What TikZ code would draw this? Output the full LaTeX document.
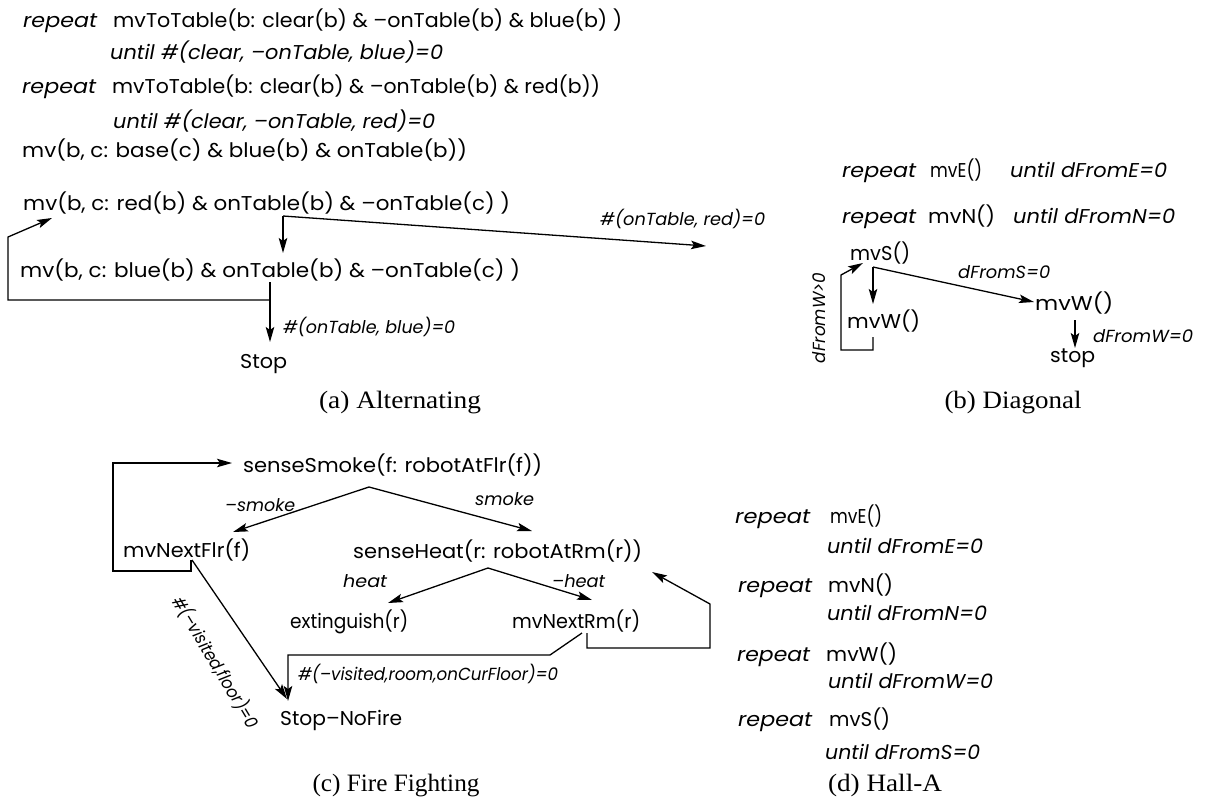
\documentclass[tikz,border=0pt]{standalone}
\usepackage{graphicx}
\usepackage{fontspec}
\setmainfont{Poppins}
\newfontfamily\capfont{Liberation Serif}
\usetikzlibrary{arrows.meta,calc}

% set a text to a given width (in pt) by horizontal scaling
\newsavebox\fitbox
\newcommand\fitw[2]{\sbox\fitbox{#2}%
  \pgfmathsetmacro\fitr{#1/\the\wd\fitbox}%
  \scalebox{\fitr}[1]{\usebox\fitbox}}

\tikzset{
  txt/.style={inner sep=0pt, anchor=base west, font=\fontsize{20}{23}\selectfont},
  kw/.style={txt, font=\fontsize{20}{23}\selectfont\itshape},
  lbl/.style={inner sep=0pt, anchor=base west, font=\fontsize{17.5}{20}\selectfont\itshape},
  subcap/.style={inner sep=0pt, anchor=base, font=\capfont\fontsize{25}{28}\selectfont},
  ln/.style={line width=1.3pt, line join=miter},
  arr/.style={ln, -{Stealth[length=15pt,width=8.5pt,inset=3pt]}},
}

\begin{document}
\begin{tikzpicture}[x=1pt,y=-1pt]
\path[use as bounding box] (0,0) rectangle (1208,801);

% ---------------- (a) Alternating ----------------
\node[kw]  (a1k) at (23,27)  {\fitw{74}{repeat}};
\node[txt] (a1)  at (113,27) {\fitw{509}{mvToTable(b: clear(b) \& –onTable(b) \& blue(b) )}};
\node[kw]  (a1u) at (110,59) {\fitw{333}{until \#(clear, –onTable, blue)=0}};
\node[kw]  (a2k) at (22,93)  {\fitw{74}{repeat}};
\node[txt] (a2)  at (112,93) {\fitw{488}{mvToTable(b: clear(b) \& –onTable(b) \& red(b))}};
\node[kw]  (a2u) at (113,128) {\fitw{322}{until \#(clear, –onTable, red)=0}};
\node[txt] (a3)  at (22,157) {\fitw{445}{mv(b, c: base(c) \& blue(b) \& onTable(b))}};
\node[txt] (ared) at (23,210) {\fitw{487}{mv(b, c: red(b) \& onTable(b) \& –onTable(c) )}};
\node[txt] (ablue) at (20,277) {\fitw{500}{mv(b, c: blue(b) \& onTable(b) \& –onTable(c) )}};
\node[txt] (astop) at (240,368) {\fitw{47}{Stop}};
\node[lbl] (alr) at (600,225) {\fitw{165}{\#(onTable, red)=0}};
\node[lbl] (alb) at (283,333) {\fitw{172}{\#(onTable, blue)=0}};

\coordinate (ar)  at (283,216);
\coordinate (arE) at (706,246);
\coordinate (ab)  at (270,282);
\coordinate (abL) at (270,300);
\coordinate (aLp) at (8,237);
\coordinate (aIn) at (52,218);

\draw[arr] (ar) -- (ar |- 0,253);
\draw[arr] (ar) -- (arE);
\draw[arr] (ab) -- (ab |- 0,342);
\draw[arr] (abL) -| (aLp) -- (aIn);

\node[subcap] (capa) at (400,408) {\fitw{162}{(a) Alternating}};

% ---------------- (b) Diagonal ----------------
\node[kw]  (b1k) at (842,177) {\fitw{74}{repeat}};
\node[txt] (b1)  at (930,177) {\fitw{52}{mvE()}};
\node[kw]  (b1u) at (1010,177) {\fitw{157}{until dFromE=0}};
\node[kw]  (b2k) at (842,223) {\fitw{74}{repeat}};
\node[txt] (b2)  at (928,223) {\fitw{67}{mvN()}};
\node[kw]  (b2u) at (1013,223) {\fitw{162}{until dFromN=0}};
\node[txt] (bS)  at (850,260) {\fitw{60}{mvS()}};
\node[txt] (bWl) at (847,328) {\fitw{73}{mvW()}};
\node[txt] (bWr) at (1035,310) {\fitw{78}{mvW()}};
\node[txt] (bstop) at (1050,362) {\fitw{45}{stop}};
\node[lbl] (bls) at (958,278) {\fitw{92}{dFromS=0}};
\node[lbl] (blw) at (1093,342) {\fitw{100}{dFromW=0}};
\node[lbl, anchor=center, rotate=90] (blg) at (819,318) {\fitw{90}{dFromW>0}};

\coordinate (bs)  at (873,267);
\coordinate (bsE) at (1034,302);
\coordinate (bw)  at (1075,320);
\coordinate (bl0) at (873,337);
\coordinate (bl1) at (841,350);
\coordinate (bl2) at (841,275);
\coordinate (bIn) at (863,263);

\draw[arr] (bs) -- (bs |- 0,304);
\draw[arr] (bs) -- (bsE);
\draw[arr] (bw) -- (bw |- 0,348);
\draw[arr] (bl0) |- (bl1) -- (bl2) -- (bIn);

\node[subcap] (capb) at (1013,408) {\fitw{137}{(b) Diagonal}};

% ---------------- (c) Fire Fighting ----------------
\node[txt] (cSm)  at (243,472) {\fitw{299}{senseSmoke(f: robotAtFlr(f))}};
\node[txt] (cFl)  at (123,557) {\fitw{127}{mvNextFlr(f)}};
\node[txt] (cHt)  at (353,558) {\fitw{289}{senseHeat(r: robotAtRm(r))}};
\node[txt] (cEx)  at (290,628) {\fitw{118}{extinguish(r)}};
\node[txt] (cRm)  at (512,628) {\fitw{128}{mvNextRm(r)}};
\node[txt] (cStop) at (280,725) {\fitw{122}{Stop–NoFire}};
\node[lbl] (cl1) at (225,511) {\fitw{70}{–smoke}};
\node[lbl] (cl2) at (475,505) {\fitw{59}{smoke}};
\node[lbl] (cl3) at (343,587) {\fitw{44}{heat}};
\node[lbl] (cl4) at (552,587) {\fitw{53}{–heat}};
\node[lbl] (cl5) at (298,680) {\fitw{260}{\#(–visited,room,onCurFloor)=0}};
\node[lbl, anchor=center, rotate=-59] (cl6) at (216,662) {\fitw{150}{\#(–visited,floor)=0}};

\coordinate (cs)   at (369,487);
\coordinate (csL)  at (233,532);
\coordinate (csR)  at (532,531);
\coordinate (ch)   at (488,568);
\coordinate (chL)  at (388,603);
\coordinate (chR)  at (592,600);
\coordinate (cf0)  at (191,560);
\coordinate (cf1)  at (113,571);
\coordinate (cfIn) at (232,463);
\coordinate (cfD)  at (192,560);
\coordinate (cfE)  at (287,699);
\coordinate (cr0)  at (587,633);
\coordinate (cr1)  at (710,648);
\coordinate (cr2)  at (710,604);
\coordinate (crIn) at (652,572);
\coordinate (cq0)  at (582,633);
\coordinate (cq1)  at (550,655);
\coordinate (cq2)  at (288,655);
\coordinate (cqE)  at (288,701);

\draw[arr] (cs) -- (csL);
\draw[arr] (cs) -- (csR);
\draw[arr] (ch) -- (chL);
\draw[arr] (ch) -- (chR);
\draw[arr] (cf0) |- (cf1) |- (cfIn);
\draw[arr] (cfD) -- (cfE);
\draw[arr] (cr0) |- (cr1) -- (cr2) -- (crIn);
\draw[arr] (cq0) -- (cq1) -- (cq2) -- (cqE);

\node[subcap] (capc) at (396,791) {\fitw{167}{(c) Fire Fighting}};

% ---------------- (d) Hall-A ----------------
\node[kw]  (d1k) at (735,523) {\fitw{75}{repeat}};
\node[txt] (d1)  at (830,523) {\fitw{52}{mvE()}};
\node[kw]  (d1u) at (827,553) {\fitw{156}{until dFromE=0}};
\node[kw]  (d2k) at (738,592) {\fitw{74}{repeat}};
\node[txt] (d2)  at (828,592) {\fitw{65}{mvN()}};
\node[kw]  (d2u) at (827,620) {\fitw{160}{until dFromN=0}};
\node[kw]  (d3k) at (737,661) {\fitw{73}{repeat}};
\node[txt] (d3)  at (826,661) {\fitw{71}{mvW()}};
\node[kw]  (d3u) at (828,688) {\fitw{165}{until dFromW=0}};
\node[kw]  (d4k) at (738,726) {\fitw{74}{repeat}};
\node[txt] (d4)  at (829,726) {\fitw{61}{mvS()}};
\node[kw]  (d4u) at (825,759) {\fitw{155}{until dFromS=0}};

\node[subcap] (capd) at (885,791) {\fitw{114}{(d) Hall-A}};

\end{tikzpicture}
\end{document}
